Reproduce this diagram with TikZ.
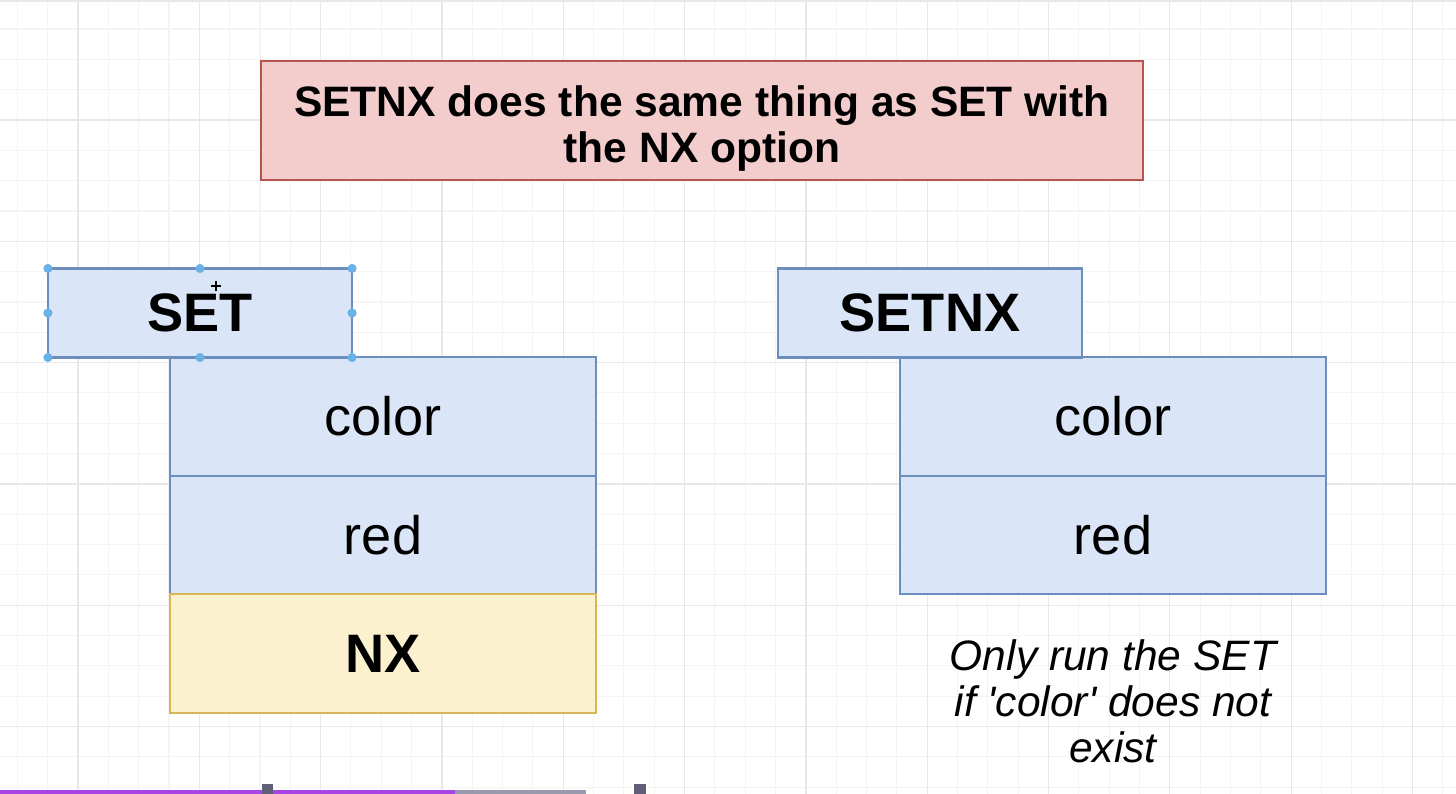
\documentclass[tikz,border=0pt]{standalone}
\usepackage{fontspec}
\setmainfont{Liberation Sans}
\usetikzlibrary{positioning}

\definecolor{titlefill}{HTML}{F3CDCB}
\definecolor{titleline}{HTML}{B85450}
\definecolor{bluefill}{HTML}{DAE6F8}
\definecolor{blueline}{HTML}{6C8EBF}
\definecolor{yellowfill}{HTML}{FCF1CE}
\definecolor{yellowline}{HTML}{D6B656}
\definecolor{handleblue}{HTML}{6AB2E6}
\definecolor{gridminor}{HTML}{F4F4F4}
\definecolor{gridmajor}{HTML}{E8E8E8}
\definecolor{barpurple}{HTML}{A843E6}
\definecolor{bargray}{HTML}{9A9AAE}
\definecolor{markgray}{HTML}{5F5F78}

\newcommand*{\pxw}{1456}
\newcommand*{\pxh}{794}

\begin{document}
\begin{tikzpicture}
[
	x=0.01cm, y=-0.01cm,
	cell/.style={draw=blueline,fill=bluefill,line width=0.6pt,inner sep=0pt,outer sep=0pt,
		minimum width=4.26cm,minimum height=1.185cm,font=\fontsize{15.4}{17}\selectfont},
	cmdbox/.style={cell,minimum width=3.04cm,minimum height=0.89cm,font=\fontsize{15.4}{17}\selectfont\bfseries},
	handle/.style={circle,fill=handleblue,inner sep=0pt,minimum size=2.6pt}
]

	\useasboundingbox (0,0) rectangle (\pxw,\pxh);

	% grid
	\foreach \i in {-3,...,45} {
		\draw[gridminor,line width=0.3pt] ({78+30.33*\i},0) -- ({78+30.33*\i},\pxh);
	}
	\foreach \i in {-4,...,22} {
		\draw[gridminor,line width=0.3pt] (0,{120+30.33*\i}) -- (\pxw,{120+30.33*\i});
	}
	\foreach \i in {-1,...,11} {
		\draw[gridmajor,line width=0.3pt] ({78+121.33*\i},0) -- ({78+121.33*\i},\pxh);
	}
	\foreach \i in {0,...,5} {
		\draw[gridmajor,line width=0.3pt] (0,{120+121.33*\i}) -- (\pxw,{120+121.33*\i});
	}
	\draw[gridmajor,line width=0.6pt] (0,1) -- (\pxw,1);

	% title
	\node[draw=titleline,fill=titlefill,line width=0.6pt,minimum width=8.82cm,minimum height=1.19cm,inner ysep=0pt,
		align=center,text height=26.5pt,font=\fontsize{12.1}{13.1}\selectfont\bfseries] (title) at (702,120.5)
		{SETNX does the same thing as SET with\\the NX option};

	% SET with NX
	\node[cell] (setcolor) at (383,416.5) {color};
	\node[cell,below=0pt of setcolor] (setred) {red};
	\node[cell,below=0pt of setred,draw=yellowline,fill=yellowfill,font=\fontsize{15.4}{17}\selectfont\bfseries] (setnx) {NX};
	\node[cmdbox] (setcmd) at (200,313) {SET};

	% SETNX
	\node[cell] (nxcolor) at (1113,416.5) {color};
	\node[cell,below=0pt of nxcolor] (nxred) {red};
	\node[cmdbox] (nxcmd) at (930,313) {SETNX};

	\node[align=center,font=\fontsize{12.1}{13.1}\selectfont\itshape] (note) at (1113,701)
		{Only run the SET\\if \textquotesingle color\textquotesingle{} does not\\exist};

	% selection handles
	\foreach \a/\n in {north west/nw,north/n,north east/ne,west/w,east/e,south west/sw,south/s,south east/se} {
		\node[handle] (h\n) at (setcmd.\a) {};
	}
	\coordinate (cursor) at (216,286);
	\draw[line width=0.4pt] ([xshift=-1.4pt]cursor) -- ([xshift=1.4pt]cursor);
	\draw[line width=0.4pt] ([yshift=-1.4pt]cursor) -- ([yshift=1.4pt]cursor);

	% progress bar
	\fill[barpurple] (0,790) rectangle (455,\pxh);
	\fill[bargray] (455,790) rectangle (586,\pxh);
	\fill[markgray] (262,784) rectangle (273,\pxh);
	\fill[markgray] (634,784) rectangle (646,\pxh);

\end{tikzpicture}
\end{document}
